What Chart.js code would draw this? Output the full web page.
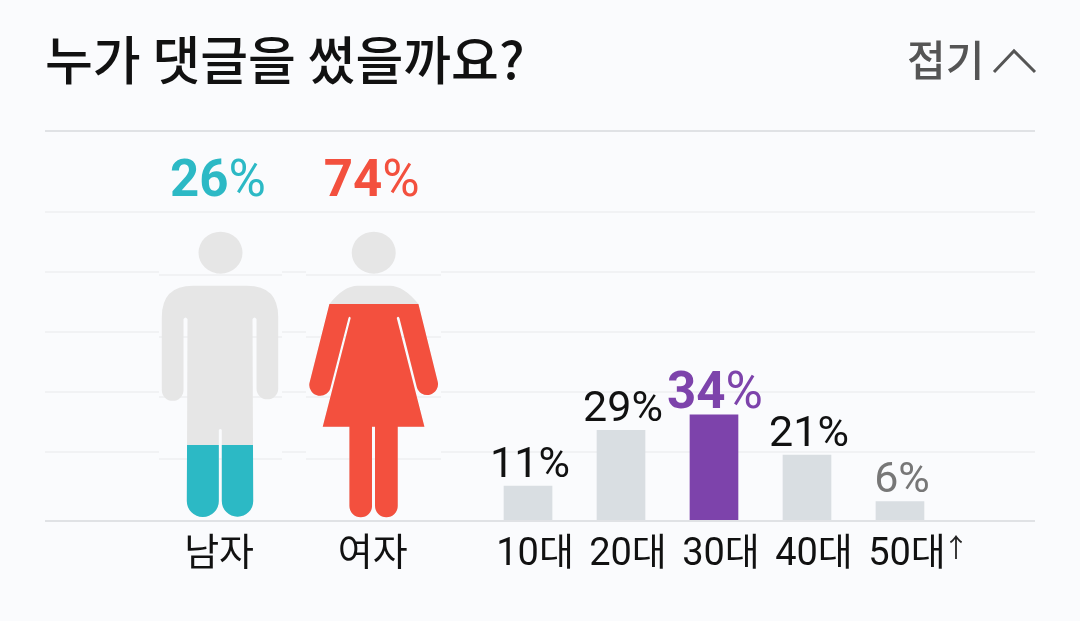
<!DOCTYPE html>
<html lang="ko">
<head>
<meta charset="utf-8">
<title>누가 댓글을 썼을까요?</title>
<style>
  html, body { margin: 0; padding: 0; background: #fafbfd; }
  canvas { display: block; }
</style>
<script src="https://cdn.jsdelivr.net/npm/chart.js@4"></script>
</head>
<body>
<canvas id="chart" width="1080" height="621"></canvas>
<script>
const titleText = '누가 댓글을 썼을까요?';
const foldText = '접기';

const genderLabels = ['남자', '여자'];
const genderValues = [26, 74];

const ageLabels = ['10대', '20대', '30대', '40대', '50대'];
const ageValues = [11, 29, 34, 21, 6];

const KR = '"Noto Sans CJK KR"';
const NUM = 'Roboto, "Noto Sans CJK KR"';
const GRID = '#f1f2f4';
const GRID_DARK = '#e0e2e5';
const BG = '#fafbfd';
const BODY_GREY = '#e6e6e6';
const genderColors = ['#2cb9c5', '#f3503e'];
const BAR_GREY = '#d9dee2';
const BAR_TOP = '#7d43ab';

// x 축은 10대=1 ... 50대=5 기준, 그림은 그 왼쪽
const figureX = [-2.312, -0.659];
const labelShift = 0.075;
const figureTop = 232;

const manPath = new Path2D(
  'M-58.2 85 Q-58.2 53.7 -27 53.7 L27 53.7 Q58.2 53.7 58.2 85 L58.2 156.5 ' +
  'A10.85 10.85 0 0 1 36.5 156.5 L36.5 87 Q34.5 84 32.5 87 L33.2 269 ' +
  'A15.7 15.7 0 0 1 1.8 269 L1.8 198 Q0.3 196 -1.2 198 L-1.2 269 ' +
  'A16 16 0 0 1 -33.2 269 L-32.5 87 Q-34.5 84 -36.5 87 L-36.5 158 ' +
  'A10.85 10.85 0 0 1 -58.2 158 Z'
);
manPath.ellipse(0.5, 20.7, 22, 21, 0, 0, Math.PI * 2);

const womanPath = new Path2D(
  'M-44.3 72 Q-30 53.7 -16 53.7 L16 53.7 Q30 53.7 44.7 72 L64 149.7 ' +
  'A10.7 10.7 0 0 1 43 154.7 L25.7 86 Q24.3 83.5 23 86 L50.7 194.7 L24 194.7 L24 274 ' +
  'A11.3 11.3 0 0 1 1.3 274 L1.3 194.7 L-1.7 194.7 L-1.7 274 ' +
  'A11.3 11.3 0 0 1 -24.3 274 L-24.3 194.7 L-51 194.7 L-23 86 Q-24.2 83.5 -25.3 86 L-43 154.7 ' +
  'A10.7 10.7 0 0 1 -64.3 151.3 Z'
);
womanPath.ellipse(0, 20.7, 22, 21, 0, 0, Math.PI * 2);

const figurePaths = [manPath, womanPath];

function drawPercent(ctx, cx, baseline, value, color, bold, size) {
  const numFont = `${bold ? 700 : 400} ${size}px ${NUM}`;
  const pctFont = `400 ${size}px ${NUM}`;
  const num = String(value);
  ctx.font = numFont;
  const w1 = ctx.measureText(num).width;
  ctx.font = pctFont;
  const w2 = ctx.measureText('%').width;
  const left = cx - (w1 + w2) / 2;
  ctx.fillStyle = color;
  ctx.textAlign = 'left';
  ctx.textBaseline = 'alphabetic';
  ctx.font = numFont;
  ctx.fillText(num, left, baseline);
  ctx.font = pctFont;
  ctx.fillText('%', left + w1, baseline);
}

const figurePlugin = {
  id: 'figures',
  beforeDatasetsDraw(chart) {
    const { ctx, scales, chartArea } = chart;
    ctx.save();
    // 사람 그림 이미지 영역: 배경 격자가 살짝 어긋나 보임
    [[159, 123], [306, 135]].forEach(([left, width]) => {
      ctx.fillStyle = BG;
      ctx.fillRect(left, 222, width, chartArea.bottom - 222);
      ctx.fillStyle = GRID;
      [275, 337, 397, 459].forEach(y => ctx.fillRect(left, y - 1, width, 2));
    });
    ctx.fillStyle = GRID_DARK;
    ctx.fillRect(chartArea.left, chartArea.bottom, chartArea.width, 2);
    genderValues.forEach((v, i) => {
      const cx = scales.x.getPixelForValue(figureX[i]);
      const level = scales.yGender.getPixelForValue(v);
      ctx.save();
      ctx.translate(cx, figureTop);
      ctx.fillStyle = BODY_GREY;
      ctx.fill(figurePaths[i]);
      ctx.beginPath();
      ctx.rect(-80, level - figureTop, 160, 400);
      ctx.clip();
      ctx.fillStyle = genderColors[i];
      ctx.fill(figurePaths[i]);
      ctx.restore();
    });
    ctx.restore();
  },
  afterDatasetsDraw(chart) {
    const { ctx, scales } = chart;
    ctx.save();
    genderValues.forEach((v, i) => {
      const cx = scales.x.getPixelForValue(figureX[i]) - 2;
      drawPercent(ctx, cx, 196, v, genderColors[i], true, 51);
    });
    const top = Math.max(...ageValues);
    ageValues.forEach((v, i) => {
      const cx = scales.x.getPixelForValue(i + 1) + 2;
      const y = scales.y.getPixelForValue(v);
      if (v === top) drawPercent(ctx, cx - 1, y - 7, v, BAR_TOP, true, 51);
      else if (i === ageValues.length - 1) drawPercent(ctx, cx, y - 9, v, '#777777', false, 43);
      else drawPercent(ctx, cx, y - 9, v, '#111111', false, 43);
    });

    // 제목, 접기
    ctx.textAlign = 'left';
    ctx.textBaseline = 'alphabetic';
    ctx.fillStyle = '#111111';
    ctx.font = `500 52px ${KR}`;
    ctx.fillText(titleText, 45, 80);
    ctx.fillStyle = '#555555';
    ctx.font = `500 42px ${KR}`;
    ctx.fillText(foldText, 907, 76);
    ctx.strokeStyle = '#555555';
    ctx.lineWidth = 3;
    ctx.beginPath();
    ctx.moveTo(994, 72);
    ctx.lineTo(1014, 51);
    ctx.lineTo(1035, 72);
    ctx.stroke();

    // 50대 뒤 작은 화살표
    ctx.fillStyle = '#222222';
    ctx.font = `400 26px ${NUM}`;
    ctx.textAlign = 'center';
    ctx.fillText('↑', 956, 557);
    ctx.restore();
  }
};

const xTicks = [
  ...figureX.map((x, i) => ({ value: x - labelShift - 0.01, label: genderLabels[i] })),
  ...ageLabels.map((l, i) => ({ value: i + 1, label: l }))
];

new Chart(document.getElementById('chart'), {
  type: 'bar',
  data: {
    datasets: [{
      data: ageValues.map((v, i) => ({ x: i + 1, y: v })),
      backgroundColor: ageValues.map(v => v === Math.max(...ageValues) ? BAR_TOP : BAR_GREY),
      barThickness: 48,
      borderWidth: 0
    }]
  },
  plugins: [figurePlugin],
  options: {
    responsive: false,
    animation: false,
    events: [],
    layout: { padding: { left: 45, right: 45, top: 131, bottom: 0 } },
    plugins: { legend: { display: false }, tooltip: { enabled: false } },
    scales: {
      x: {
        type: 'linear',
        offset: false,
        min: -4.194,
        max: 6.452,
        afterBuildTicks: s => { s.ticks = xTicks.map(t => ({ value: t.value })); },
        afterFit: s => { s.height = 101; },
        grid: { display: false, drawTicks: false },
        border: { display: false },
        ticks: {
          autoSkip: false,
          maxRotation: 0,
          padding: 13,
          labelOffset: 7,
          color: '#111111',
          font: { family: NUM, size: 38 },
          callback: v => {
            const t = xTicks.find(t => Math.abs(t.value - v) < 1e-6);
            return t ? t.label : '';
          }
        }
      },
      y: {
        min: 0,
        max: 125.9,
        afterBuildTicks: s => {
          s.ticks = [22, 41.4, 60.8, 80.3, 99.7, 125.9].map(value => ({ value }));
        },
        afterFit: s => { s.width = 0; },
        grid: {
          lineWidth: 2,
          drawTicks: false,
          color: c => (c.tick && c.tick.value === 125.9 ? GRID_DARK : GRID)
        },
        border: { display: false },
        ticks: { display: false }
      },
      yGender: {
        display: false,
        min: 0.48,
        max: 132.9
      }
    }
  }
});
</script>
</body>
</html>
